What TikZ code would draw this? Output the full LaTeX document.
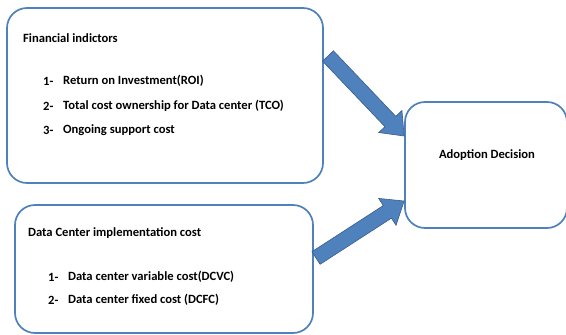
\documentclass[tikz,border=0pt]{standalone}
\usepackage{fontspec}
\setmainfont{Carlito}
\usetikzlibrary{calc}
\definecolor{boxblue}{HTML}{4F81BD}
\definecolor{arrowedge}{HTML}{385D8A}
\begin{document}
\begin{tikzpicture}[x=1pt,y=-1pt,
  boxshape/.style={draw=boxblue, line width=1.7pt, rounded corners=20pt, fill=white, inner sep=0pt},
  label/.style={font=\fontsize{12.6}{15}\selectfont\bfseries, inner sep=0pt, anchor=west},
  blockarrow/.style={fill=boxblue, draw=arrowedge, line width=0.6pt, line join=miter}]
\useasboundingbox (0,0) rectangle (566,335);
% boxes
\node[boxshape, minimum width=316pt, minimum height=175pt] (fin) at (165,95.5) {};
\node[boxshape, minimum width=298pt, minimum height=128pt] (dc) at (164,269) {};
\node[boxshape, minimum width=162pt, minimum height=126pt] (adopt) at (486,165) {};
% texts
\node[label] (finT) at (23,38) {Financial indictors};
\node[label] (f1n) at (43,81) {1-};
\node[label] (f1) at (63,81) {Return on Investment(ROI)};
\node[label] (f2n) at (43,106) {2-};
\node[label] (f2) at (63,106) {Total cost ownership for Data center (TCO)};
\node[label] (f3n) at (43,130) {3-};
\node[label] (f3) at (63,130) {Ongoing support cost};
\node[label] (dcT) at (28,233) {Data Center implementation cost};
\node[label] (d1n) at (48,277) {1-};
\node[label] (d1) at (68,277) {Data center variable cost(DCVC)};
\node[label] (d2n) at (48,300) {2-};
\node[label] (d2) at (68,300) {Data center fixed cost (DCFC)};
\node[label, anchor=center] (adoptT) at (487,155) {Adoption Decision};
% arrow ends
\coordinate (t1) at (328,56);
\coordinate (h1) at (adopt.west |- 0,136);
\coordinate (t2) at (316,258);
\coordinate (h2) at (adopt.west |- 0,201);
\coordinate (b1) at ($(h1)!20pt!(t1)$);
\coordinate (b2) at ($(h2)!20pt!(t2)$);
\draw[blockarrow] ($(t1)!7.5pt!90:(h1)$) -- ($(b1)!7.5pt!-90:(t1)$) -- ($(b1)!16pt!-90:(t1)$) -- (h1)
  -- ($(b1)!16pt!90:(t1)$) -- ($(b1)!7.5pt!90:(t1)$) -- ($(t1)!7.5pt!-90:(h1)$) -- cycle;
\draw[blockarrow] ($(t2)!7.5pt!90:(h2)$) -- ($(b2)!7.5pt!-90:(t2)$) -- ($(b2)!16pt!-90:(t2)$) -- (h2)
  -- ($(b2)!16pt!90:(t2)$) -- ($(b2)!7.5pt!90:(t2)$) -- ($(t2)!7.5pt!-90:(h2)$) -- cycle;
\end{tikzpicture}
\end{document}
